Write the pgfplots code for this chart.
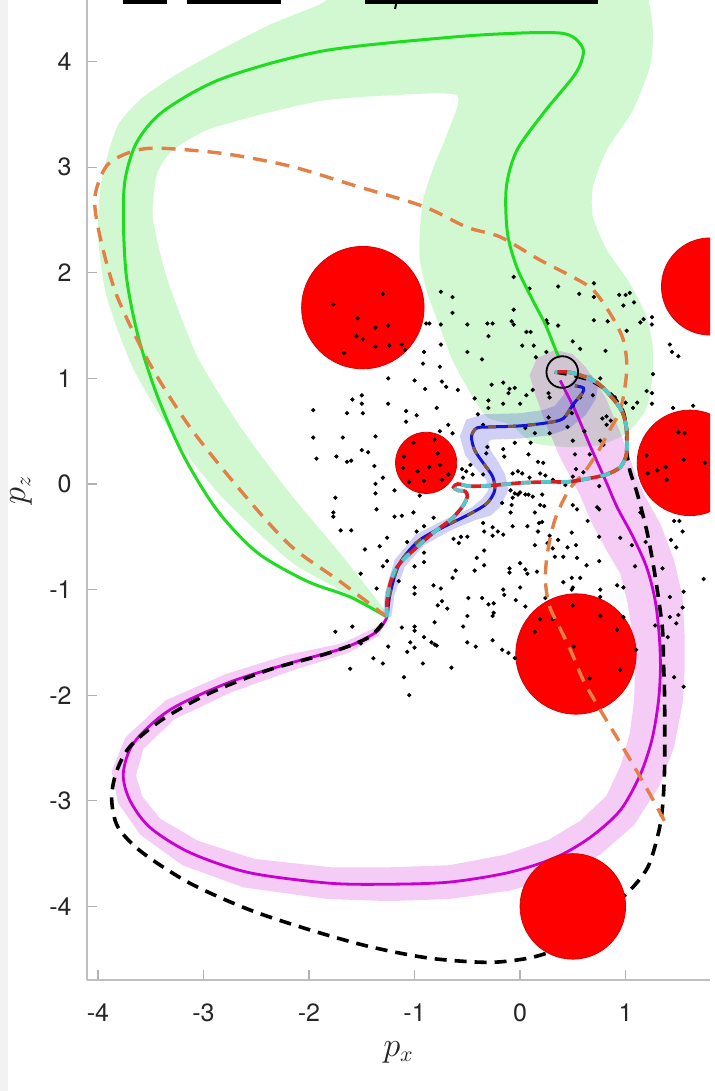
\documentclass[border=0pt]{standalone}
\usepackage{pgfplots}
\pgfplotsset{compat=1.18}
\usepackage{pgfplotstable}
\usepackage{fontspec}
\setmainfont{TeX Gyre Heros}

\definecolor{trajgreen}{RGB}{30,220,30}
\definecolor{trajmag}{RGB}{200,0,210}
\definecolor{trajorange}{RGB}{226,128,72}
\definecolor{trajblue}{RGB}{20,20,210}
\definecolor{trajbrown}{RGB}{130,90,60}
\definecolor{trajred}{RGB}{215,30,35}
\definecolor{trajcyan}{RGB}{80,200,205}
\definecolor{trajsienna}{RGB}{190,100,50}

% obstacles: centre and radius
\pgfplotstableread{
x y r
-1.49 1.67 0.58
-0.89 0.20 0.29
0.53 -1.61 0.57
0.50 -4.00 0.50
1.61 0.20 0.50
1.80 1.87 0.46
}\obstacles

% lower route from the junction to the goal
\pgfplotstableread{
x y
-1.26 -1.26
-1.26 -1.10
-1.23 -0.94
-1.18 -0.81
-1.11 -0.72
-0.98 -0.60
-0.82 -0.46
-0.66 -0.34
-0.55 -0.22
-0.50 -0.12
-0.52 -0.07
-0.59 -0.06
-0.63 -0.03
-0.59 0.00
-0.49 -0.02
-0.38 -0.02
-0.22 -0.01
0.00 0.01
0.26 0.02
0.45 0.02
0.64 0.05
0.82 0.09
0.95 0.16
1.01 0.29
1.01 0.51
0.97 0.68
0.87 0.82
0.73 0.96
0.57 1.03
0.45 1.06
0.33 1.06
}\redpath

\pgfplotstableread{
x y
0.82 0.09
0.95 0.16
1.01 0.29
1.01 0.51
0.97 0.68
0.87 0.82
0.73 0.96
0.57 1.03
0.45 1.06
}\hookpath

\pgfplotstableread{
x y
-1.26 -1.26
-1.23 -1.03
-1.14 -0.75
-0.95 -0.53
-0.69 -0.39
-0.45 -0.27
-0.31 -0.18
-0.24 -0.06
-0.26 0.07
-0.35 0.20
-0.43 0.32
-0.46 0.45
-0.41 0.53
-0.28 0.54
0.00 0.55
0.26 0.58
0.41 0.62
0.50 0.75
0.59 0.86
0.60 0.91
0.52 0.93
}\bluepath

\begin{document}
\begin{tikzpicture}
\useasboundingbox (0,0) rectangle (357.5pt,545.5pt);
\fill[black!5] (0,0) rectangle (4pt,545.5pt);
\begin{axis}[
  at={(43.5pt,55.5pt)}, anchor=south west,
  scale only axis, width=311.5pt, height=490pt,
  xmin=-4.104, xmax=1.80, ymin=-4.697, ymax=4.583,
  axis x line*=bottom, axis y line*=left,
  axis line style={draw=black!25, line width=0.8pt, -},
  xtick={-4,-3,-2,-1,0,1}, ytick={-4,-3,-2,-1,0,1,2,3,4},
  tick style={draw=black!30, line width=0.6pt},
  major tick length=5pt, tick align=inside,
  /pgf/number format/assume math mode=true,
  ticklabel style={font=\fontsize{12.5}{15}\selectfont, text=black!85},
  xticklabel style={anchor=center, inner sep=0pt, yshift=-16.5pt},
  yticklabel style={anchor=east, inner sep=0pt, xshift=-7.5pt},
  xlabel={$p_x$}, ylabel={$p_z$},
  xlabel style={at={([yshift=-36pt]axis description cs:0.5,0)}, anchor=center, font=\fontsize{16}{18}\selectfont, text=black!85},
  ylabel style={at={([xshift=-33pt]axis description cs:0,0.5)}, anchor=center, font=\fontsize{16}{18}\selectfont, text=black!85},
  clip marker paths=true,
]

% uncertainty tube of the upper route
\addplot[draw=none, fill=trajgreen, fill opacity=0.2, smooth, tension=0.4] coordinates {
(-1.26,-1.26) (-1.71,-1.00) (-2.18,-0.73) (-2.82,-0.13) (-3.29,0.46) (-3.67,1.10)
(-3.92,1.78) (-4.00,2.34) (-3.98,2.78) (-3.92,3.07) (-3.81,3.40) (-3.60,3.64)
(-3.27,3.87) (-2.84,4.11) (-2.37,4.35) (-1.90,4.54) (-1.66,4.68) (-0.66,4.87)
(0.95,4.87) (1.20,4.63) (1.26,4.27) (1.23,3.95) (1.07,3.54) (0.82,3.16)
(0.69,2.81) (0.69,2.53) (0.82,2.22) (1.04,1.90) (1.20,1.58) (1.26,1.27)
(1.25,0.98) (1.19,0.70) (1.01,0.48) (0.76,0.37) (0.45,0.35) (0.12,0.39)
(-0.09,0.56) (-0.31,0.63) (-0.47,0.86) (-0.64,1.17) (-0.76,1.49) (-0.88,1.81)
(-0.95,2.12) (-0.95,2.38) (-0.92,2.69) (-0.82,3.00) (-0.69,3.32) (-0.60,3.68)
(-1.23,3.68) (-1.87,3.63) (-2.49,3.49) (-2.97,3.35) (-3.29,3.16) (-3.44,2.94)
(-3.48,2.53) (-3.35,1.96) (-3.06,1.21) (-2.65,0.54) (-2.18,-0.09) (-1.71,-0.65)
(-1.26,-1.22)
} -- cycle;

% uncertainty tube of the lower-left loop
\addplot[draw=none, fill=trajmag, fill opacity=0.2] coordinates {
(0.62,1.11) (0.81,0.82) (0.95,0.49) (1.08,0.13) (1.17,-0.09) (1.33,-0.38)
(1.46,-0.72) (1.54,-1.07) (1.56,-1.45) (1.56,-1.76) (1.54,-2.08) (1.46,-2.49)
(1.32,-2.86) (1.08,-3.23) (0.76,-3.51) (0.39,-3.71) (-0.09,-3.85) (-0.67,-3.93)
(-1.24,-3.95) (-1.83,-3.93) (-2.62,-3.82) (-3.20,-3.61) (-3.60,-3.32) (-3.81,-3.02)
(-3.87,-2.72) (-3.74,-2.40) (-3.36,-2.05) (-2.79,-1.80) (-2.21,-1.62) (-1.69,-1.51)
(-1.37,-1.36) (-1.26,-1.26) (-1.34,-1.44) (-1.63,-1.60) (-2.17,-1.77) (-2.73,-1.97)
(-3.28,-2.23) (-3.57,-2.51) (-3.64,-2.76) (-3.58,-2.96) (-3.41,-3.17) (-3.05,-3.38)
(-2.52,-3.55) (-1.79,-3.63) (-1.24,-3.63) (-0.67,-3.61) (-0.14,-3.51) (0.27,-3.37)
(0.57,-3.19) (0.82,-2.95) (0.96,-2.65) (1.04,-2.36) (1.08,-2.06) (1.09,-1.76)
(1.07,-1.45) (1.02,-1.13) (0.95,-0.85) (0.82,-0.63) (0.67,-0.35) (0.57,-0.11)
(0.38,0.25) (0.24,0.58) (0.14,0.86) (0.09,1.03) (0.16,1.19) (0.33,1.27) (0.50,1.23)
} -- cycle;

% uncertainty tube of the short middle route
\addplot[draw=none, fill=trajblue, fill opacity=0.2] coordinates {
(-1.30,-1.26) (-1.28,-1.03) (-1.19,-0.72) (-0.99,-0.48) (-0.72,-0.34) (-0.47,-0.23)
(-0.36,-0.14) (-0.30,-0.06) (-0.32,0.04) (-0.42,0.15) (-0.52,0.27) (-0.57,0.45)
(-0.51,0.61) (-0.35,0.66) (0.00,0.67) (0.22,0.70) (0.33,0.74) (0.41,0.84)
(0.49,0.97) (0.57,1.04) (0.68,1.03) (0.74,0.94) (0.72,0.81) (0.62,0.65)
(0.47,0.53) (0.28,0.46) (0.00,0.43) (-0.27,0.42) (-0.30,0.40) (-0.28,0.32)
(-0.22,0.23) (-0.14,0.09) (-0.11,-0.06) (-0.19,-0.22) (-0.28,-0.30) (-0.42,-0.34)
(-0.66,-0.44) (-0.91,-0.58) (-1.09,-0.78) (-1.19,-1.05) (-1.22,-1.26)
} -- cycle;

% lower-left loop
\addplot[trajmag, line width=1.4pt, smooth] coordinates {
(0.38,0.98) (0.52,0.70) (0.66,0.37) (0.82,0.01) (0.92,-0.22) (1.07,-0.50)
(1.20,-0.79) (1.28,-1.10) (1.32,-1.45) (1.33,-1.76) (1.31,-2.07) (1.25,-2.42)
(1.14,-2.75) (0.95,-3.09) (0.66,-3.35) (0.33,-3.54) (-0.11,-3.68) (-0.67,-3.77)
(-1.24,-3.79) (-1.81,-3.78) (-2.57,-3.68) (-3.13,-3.49) (-3.51,-3.25) (-3.70,-2.99)
(-3.76,-2.74) (-3.66,-2.45) (-3.32,-2.14) (-2.76,-1.88) (-2.19,-1.70) (-1.66,-1.55)
(-1.36,-1.40) (-1.26,-1.26)
};

% reference route
\addplot[black, line width=1.8pt, dash pattern=on 6pt off 4pt, smooth] coordinates {
(0.33,1.06) (0.50,1.03) (0.69,0.97) (0.85,0.86) (0.97,0.70) (1.01,0.51)
(1.01,0.32) (1.04,0.13) (1.11,-0.09) (1.20,-0.44) (1.26,-0.75) (1.31,-1.07)
(1.35,-1.38) (1.36,-1.70) (1.37,-2.05) (1.37,-2.68) (1.35,-3.06) (1.31,-3.31)
(1.21,-3.63) (1.02,-3.87) (0.76,-4.08) (0.47,-4.32) (0.34,-4.41) (0.08,-4.49)
(-0.30,-4.53) (-0.86,-4.49) (-1.43,-4.38) (-2.00,-4.22) (-2.57,-4.03) (-3.13,-3.78)
(-3.58,-3.49) (-3.81,-3.25) (-3.87,-2.99) (-3.83,-2.74) (-3.70,-2.49) (-3.39,-2.23)
(-2.94,-1.98) (-2.38,-1.76) (-1.81,-1.60) (-1.43,-1.45) (-1.26,-1.26)
};

% obstacles
\addplot[only marks, scatter, mark=*, point meta=\thisrow{r},
  scatter/use mapped color={draw=red!85!black, fill=red},
  visualization depends on={52.76*\thisrow{r} \as \rad},
  scatter/@pre marker code/.append style={/tikz/mark size=\rad pt, /tikz/line width=0.4pt}]
  table {\obstacles};

% sampled points
\addplot[only marks, mark=*, mark size=0.85pt, black] coordinates {
(-1.30,1.80) (-1.77,1.70) (-1.54,1.57) (-1.37,1.48) (-1.25,1.50) (-1.55,1.40) (-1.49,1.37) (-1.37,1.30) (-1.24,1.31) (-1.67,1.24) (-1.12,1.32) (-1.09,1.27)
(-0.75,1.82) (-0.64,1.77) (-0.64,1.62) (-0.89,1.52) (-0.86,1.52) (-0.75,1.51) (-0.50,1.51) (-0.31,1.52) (-0.26,1.52) (-0.30,1.40) (-0.91,1.25) (-0.75,1.32) (-0.50,1.25) (-0.36,1.18) (-0.92,1.14) (-0.76,1.11)
(-1.25,1.00) (-1.00,0.98) (-0.74,0.97) (-0.70,0.92) (-0.90,0.90) (-0.59,0.89) (-0.27,0.94) (-0.16,0.96) (-0.11,0.86) (-0.43,0.81) (-0.30,0.79) (-0.30,0.72) (-0.16,0.76)
(-1.59,0.80) (-1.50,0.84) (-1.50,0.76) (-1.25,0.76) (-1.96,0.70) (-1.64,0.67) (-1.49,0.67) (-1.08,0.69) (-0.98,0.65) (-0.79,0.72) (-1.08,0.59) (-0.40,0.66) (-0.68,0.56) (-0.35,0.56) (-0.64,0.48) (-0.76,0.50)
(-1.96,0.44) (-1.68,0.44) (-1.37,0.45) (-1.50,0.32) (-1.44,0.30) (-1.93,0.24) (-1.74,0.26) (-1.64,0.21) (-1.60,0.22) (-1.38,0.17) (-1.30,0.06) (-1.37,0)
(-0.31,0.35) (-0.16,0.33) (-0.32,0.29) (-0.15,0.26) (-0.55,0.14) (-0.51,0.12) (-0.47,0.18) (-0.45,0.09) (-0.35,0.09) (-0.54,0.06)
(-1.01,0.39) (-0.81,0.42) (-0.78,0.29) (-1.10,0.26) (-1.11,0.15) (-0.97,0.12) (-0.86,0.16) (-0.76,0.18) (-0.68,0.09) (-1.05,0.02) (-0.91,0.03) (-0.74,0.04)
(-0.06,1.96) (0.09,1.85) (0.36,1.87) (0.56,1.80) (0.70,1.90) (0.70,1.77) (0.94,1.79) (1.00,1.79) (1.04,1.81) (1.08,1.72) (0.98,1.69)
(-0.06,1.65) (-0.08,1.54) (-0.06,1.51) (0.25,1.55) (0.26,1.52) (0.36,1.50) (0.70,1.55) (0.83,1.54) (1.01,1.45) (1.14,1.53) (1.17,1.56) (1.25,1.58) (1.25,1.51)
(0.06,1.44) (0.10,1.44) (0.50,1.35) (0.02,1.31) (0.13,1.31) (0.57,1.28) (0.81,1.26) (0.15,1.20) (0.25,1.25) (1.42,1.32) (1.44,1.25) (1.50,1.21) (1.26,1.04) (0.76,1.00)
(-0.10,0.90) (-0.05,0.91) (0.12,0.89) (0.06,0.84) (0.27,0.86) (1.20,0.88) (1.25,0.86) (0,0.76) (0.28,0.82) (0.57,0.82) (0.69,0.84) (0.90,0.82) (1.00,0.77) (1.11,0.77) (1.25,0.76) (1.07,0.72) (1.45,0.72) (1.64,0.74)
(0.27,0.63) (0.50,0.74) (0.49,0.67) (0.78,0.62) (0.82,0.64) (0.86,0.60) (0.82,0.56) (0.45,0.54) (0.28,0.48) (0.14,0.48) (0.05,0.53) (-0.05,0.39) (0.10,0.39) (0.50,0.41) (0.61,0.50) (0.76,0.41) (0.79,0.37)
(0.08,0.28) (0.17,0.21) (0.22,0.20) (0.52,0.28) (0.66,0.28) (0.53,0.14) (0.60,0.11) (0.50,0.07) (-0.07,0.10) (-0.02,0.12) (0.02,0.10) (0.09,0.06) (0.19,0.10) (0.24,0.08) (0.31,0.04)
(1.50,0.49) (1.56,0.48) (1.20,0.27) (1.30,0.13) (1.38,0.16) (1.55,0.23) (1.75,0.20) (1.21,0.10) (1.39,0.04)
(-1.37,-0.09) (-0.95,-0.11) (-1.19,-0.06) (-1.75,-0.13) (-1.36,-0.24) (-1.77,-0.27) (-1.77,-0.31) (-1.70,-0.44) (-1.60,-0.44) (-1.19,-0.31) (-1.12,-0.30) (-1.01,-0.27) (-0.82,-0.32) (-0.98,-0.45) (-0.91,-0.40) (-1.26,-0.51) (-1.07,-0.55) (-1.33,-0.59) (-1.47,-0.62)
(-0.63,-0.52) (-0.56,-0.50) (-0.50,-0.50) (-0.58,-0.56) (-0.35,-0.37) (-0.34,-0.45) (-0.26,-0.41) (-0.21,-0.45) (-0.26,-0.49) (-0.16,-0.48) (-0.17,-0.18)
(-0.91,-0.65) (-0.91,-0.74) (-1.26,-0.73) (-1.30,-0.78) (-1.00,-0.78) (-0.34,-0.63) (-0.41,-0.70) (-0.34,-0.77) (-0.43,-0.82) (-0.61,-0.82) (-0.64,-0.89) (-1.51,-0.85) (-1.15,-0.92) (-1.00,-0.98) (-1.00,-1.04) (-1.36,-0.99) (-0.82,-0.96) (-0.75,-0.99)
(-0.16,-1.00) (-0.15,-1.05) (-0.49,-1.08) (-0.36,-1.08) (-0.74,-1.11) (-0.78,-1.15) (-0.69,-1.18) (-0.30,-1.14) (-0.25,-1.13) (-0.25,-1.22) (-0.26,-1.25) (-0.50,-1.25) (-0.54,-1.35) (-0.81,-1.31) (-1.12,-1.36) (-1.00,-1.35) (-1.00,-1.39) (-1.59,-1.35) (-1.75,-1.40)
(-0.91,-1.45) (-0.84,-1.50) (-0.81,-1.52) (-0.79,-1.53) (-1.04,-1.50) (-1.00,-1.55) (-1.07,-1.59) (-1.25,-1.54) (-1.51,-1.51) (-0.50,-1.50) (-0.42,-1.54) (-0.26,-1.48) (-0.17,-1.57) (-0.11,-1.60) (-1.39,-1.65) (-1.30,-1.70) (-1.61,-1.75) (-0.92,-1.70) (-0.65,-1.74) (-1.10,-1.83) (-1.05,-2.00)
(-0.09,-0.06) (-0.05,-0.09) (0,-0.08) (-0.02,-0.10) (-0.07,-0.13) (0.05,-0.10) (0.08,-0.10) (0.12,-0.12) (0.21,-0.10) (-0.08,-0.20) (0.19,-0.20) (0.23,-0.21) (0.54,-0.24) (0.14,-0.27) (-0.09,-0.27) (0.73,-0.22) (0.75,-0.24) (0.50,-0.20) (0.43,-0.01) (0.75,-0.02) (0.64,-0.35) (0.18,-0.37) (0.21,-0.36)
(-0.07,-0.40) (0.07,-0.40) (0.17,-0.45) (0.49,-0.46) (0.28,-0.49) (0.36,-0.53) (0.14,-0.58) (0.26,-0.56) (0.31,-0.61) (0.45,-0.60) (0.53,-0.58) (0.33,-0.69) (0.41,-0.69) (0.54,-0.70) (0.75,-0.50) (0.75,-0.73) (0.63,-0.77) (-0.10,-0.80) (-0.10,-0.84) (0.05,-0.81) (0.07,-0.85) (0.16,-0.83) (0,-0.75)
(0.57,-0.89) (0.49,-0.89) (0.41,-0.93) (0.50,-0.98) (0.49,-1.00) (0.76,-1.00) (0.92,-0.96) (0.98,-0.98) (0,-0.98) (-0.04,-1.10) (0.05,-1.16) (0.24,-1.08) (0.50,-1.15) (0.76,-1.07) (0.98,-1.26) (0.19,-1.28) (0.31,-1.28) (0.14,-1.40) (0.76,-1.25) (0.92,-1.38) (-0.05,-1.65) (0.51,-1.54) (1.10,-1.57) (0.95,-1.76) (0.66,-1.84)
(1.14,-0.27) (1.06,-0.58) (0.95,-0.51) (1.19,-0.55) (1.35,-0.80) (1.42,-1.07) (1.42,-1.26) (1.50,-1.24) (1.54,-1.17) (1.28,-1.34) (1.48,-1.32) (1.40,-1.45) (1.55,-1.02) (1.46,-1.83) (1.55,-1.92) (1.46,-0.35) (1.51,-0.35) (1.54,-0.45) (1.43,-0.53) (1.48,-0.60) (1.74,-0.90) (1.09,-0.78)
};

% upper route
\addplot[trajgreen, line width=1.5pt, smooth] coordinates {
(-1.26,-1.26) (-1.61,-1.07) (-2.02,-0.92) (-2.49,-0.65) (-2.87,-0.25) (-3.19,0.27)
(-3.44,0.84) (-3.62,1.40) (-3.73,1.96) (-3.76,2.53) (-3.74,2.90) (-3.63,3.24)
(-3.38,3.53) (-2.82,3.84) (-1.87,4.10) (-0.66,4.23) (0,4.27) (0.38,4.27)
(0.52,4.22) (0.60,4.11) (0.57,3.97) (0.50,3.85) (0.36,3.68) (0.22,3.51)
(-0.03,3.16) (-0.13,2.81) (-0.12,2.38) (-0.03,2.05) (0.12,1.74) (0.24,1.51)
(0.35,1.24) (0.38,1.20)
};

% wide detour
\addplot[trajorange, line width=1.7pt, dash pattern=on 7pt off 4.5pt, smooth] coordinates {
(-1.26,-1.26) (-1.71,-0.92) (-2.18,-0.58) (-2.65,-0.06) (-3.13,0.54) (-3.51,1.14)
(-3.82,1.78) (-3.98,2.34) (-4.03,2.71) (-3.92,3.01) (-3.70,3.14) (-3.44,3.18)
(-2.82,3.13) (-2.18,3.01) (-1.55,2.82) (-0.92,2.63) (-0.50,2.43) (-0.19,2.34)
(0.19,2.12) (0.50,1.96) (0.69,1.84) (0.85,1.62) (0.97,1.39) (1.01,1.17)
(1.00,0.96) (0.95,0.70) (0.85,0.51) (0.73,0.29) (0.60,0.10) (0.46,-0.06)
(0.33,-0.34) (0.26,-0.65) (0.24,-0.91) (0.28,-1.16) (0.40,-1.41) (0.49,-1.60)
(0.60,-1.86) (0.76,-2.14) (0.99,-2.52) (1.21,-2.90) (1.40,-3.25)
};

% short middle route
\addplot[trajblue, line width=1.5pt, smooth] table {\bluepath};
\addplot[trajbrown, line width=1.5pt, dash pattern=on 4pt off 6pt, smooth] table {\bluepath};

% lower route to the goal
\addplot[trajred, line width=1.8pt, smooth] table {\redpath};
\addplot[trajsienna, line width=1.8pt, smooth] table {\hookpath};
\addplot[trajcyan, line width=1.8pt, dash pattern=on 5pt off 5pt, smooth] table {\redpath};

% goal region
\addplot[only marks, mark=o, mark size=7.9pt, mark options={draw=black, line width=0.9pt}] coordinates {(0.40,1.06)};

\end{axis}
% rules along the top edge
\draw[black, line width=2pt] (61.5pt,544.5pt) -- (83.5pt,544.5pt);
\draw[black, line width=2pt] (93.5pt,544.5pt) -- (140.5pt,544.5pt);
\draw[black, line width=2pt] (182.5pt,544.5pt) -- (299pt,544.5pt);
\draw[black, line width=1pt] (198.5pt,545.5pt) -- (197.5pt,541pt);
\end{tikzpicture}
\end{document}
